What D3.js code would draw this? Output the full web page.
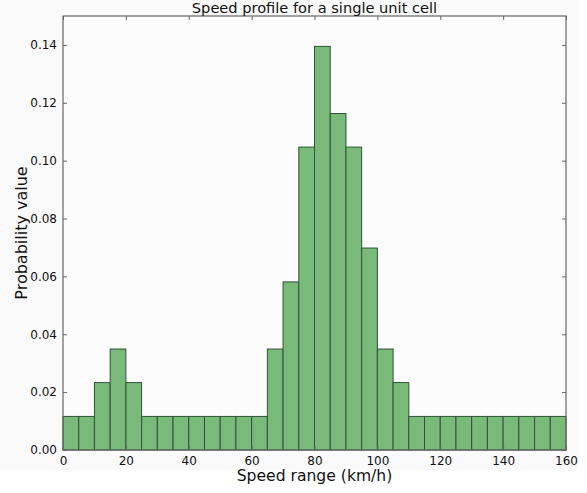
<!DOCTYPE html>
<html><head><meta charset="utf-8">
<script src="https://cdn.jsdelivr.net/npm/d3@7"></script>
<style>body{margin:0;background:#fff}svg{display:block}text{font-family:"DejaVu Sans",sans-serif;fill:#111}</style>
</head><body>
<svg id="c" width="587" height="493"></svg>
<script>
const binStarts = [0,5,10,15,20,25,30,35,40,45,50,55,60,65,70,75,80,85,90,95,100,105,110,115,120,125,130,135,140,145,150,155];
const binWidth = 5;
const probabilities = [0.0116,0.0116,0.0233,0.0349,0.0233,0.0116,0.0116,0.0116,0.0116,0.0116,0.0116,0.0116,0.0116,0.0349,0.0581,0.1047,0.1395,0.1163,0.1047,0.0698,0.0349,0.0233,0.0116,0.0116,0.0116,0.0116,0.0116,0.0116,0.0116,0.0116,0.0116,0.0116];
const xTicks = [0,20,40,60,80,100,120,140,160];
const yTicks = [0,0.02,0.04,0.06,0.08,0.10,0.12,0.14];
const titleText = "Speed profile for a single unit cell";
const xLabel = "Speed range (km/h)";
const yLabel = "Probability value";

const svg = d3.select("#c");
const m = {l:63, r:566, t:16, b:450};
svg.append("rect").attr("x",0).attr("y",0).attr("width",578).attr("height",470).attr("fill","#fafafa");
const x = d3.scaleLinear().domain([0,160]).range([m.l,m.r]);
const y = d3.scaleLinear().domain([0,0.15]).range([m.b,m.t]);

svg.append("rect").attr("x",m.l).attr("y",m.t).attr("width",m.r-m.l).attr("height",m.b-m.t).attr("fill","#fcfcfc");

svg.append("g").selectAll("rect").data(probabilities).join("rect")
  .attr("x",(d,i)=>x(binStarts[i]))
  .attr("width",(d,i)=>x(binStarts[i]+binWidth)-x(binStarts[i]))
  .attr("y",d=>y(d)).attr("height",d=>y(0)-y(d))
  .attr("fill","#79b979").attr("stroke","#2e5535").attr("stroke-width",1);

const tk = 4;
const gx = svg.append("g").attr("transform",`translate(0,${m.b})`)
  .call(d3.axisBottom(x).tickValues(xTicks).tickSize(-tk).tickPadding(6).tickFormat(d3.format("d")));
const gxt = svg.append("g").attr("transform",`translate(0,${m.t})`)
  .call(d3.axisTop(x).tickValues(xTicks).tickSize(-tk).tickFormat(""));
const gy = svg.append("g").attr("transform",`translate(${m.l},0)`)
  .call(d3.axisLeft(y).tickValues(yTicks).tickSize(-tk).tickPadding(6).tickFormat(d3.format(".2f")));
const gyr = svg.append("g").attr("transform",`translate(${m.r},0)`)
  .call(d3.axisRight(y).tickValues(yTicks).tickSize(-tk).tickFormat(""));
[gx,gxt,gy,gyr].forEach(g=>{
  g.select(".domain").remove();
  g.selectAll("line").attr("stroke","#666");
  g.selectAll("text").attr("font-size",12).attr("font-family","DejaVu Sans").attr("fill","#111");
});
svg.append("rect").attr("x",m.l).attr("y",m.t).attr("width",m.r-m.l).attr("height",m.b-m.t)
  .attr("fill","none").attr("stroke","#666").attr("stroke-width",1.2);

svg.append("text").attr("x",(m.l+m.r)/2).attr("y",13).attr("text-anchor","middle").attr("font-size",14.6).text(titleText);
svg.append("text").attr("x",(m.l+m.r)/2).attr("y",481).attr("text-anchor","middle").attr("font-size",15.6).text(xLabel);
svg.append("text").attr("transform",`translate(27,${(m.t+m.b)/2}) rotate(-90)`).attr("text-anchor","middle").attr("font-size",16).text(yLabel);
</script>
</body></html>
